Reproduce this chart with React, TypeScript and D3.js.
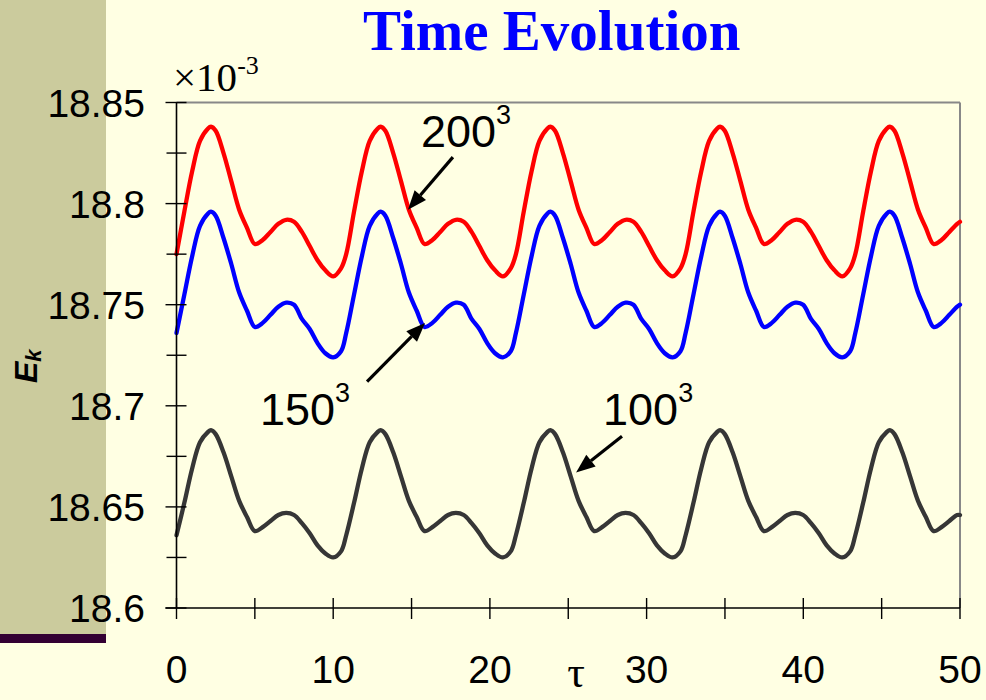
import React from "react";
import * as d3 from "d3";

// ---- data ----
const TAU = [
  0, 0.5, 1, 1.5, 2, 2.2, 2.5, 3, 3.5, 4, 4.5, 5, 5.5, 6, 6.5, 7, 7.5, 8, 8.5, 9, 9.5, 10, 10.5,
  10.83, 11.33, 11.83, 12.33, 12.83, 13.03, 13.33, 13.83, 14.33, 14.83, 15.33, 15.83, 16.33, 16.83, 17.33, 17.83, 18.33, 18.83, 19.33, 19.83, 20.33, 20.83, 21.33,
  21.66, 22.16, 22.66, 23.16, 23.66, 23.86, 24.16, 24.66, 25.16, 25.66, 26.16, 26.66, 27.16, 27.66, 28.16, 28.66, 29.16, 29.66, 30.16, 30.66, 31.16, 31.66, 32.16,
  32.49, 32.99, 33.49, 33.99, 34.49, 34.69, 34.99, 35.49, 35.99, 36.49, 36.99, 37.49, 37.99, 38.49, 38.99, 39.49, 39.99, 40.49, 40.99, 41.49, 41.99, 42.49, 42.99,
  43.32, 43.82, 44.32, 44.82, 45.32, 45.52, 45.82, 46.32, 46.82, 47.32, 47.82, 48.32, 48.82, 49.32, 49.82, 50,
];

const EK_200 = [
  18.775, 18.796, 18.816, 18.831, 18.837, 18.838, 18.836, 18.825, 18.811, 18.797, 18.788, 18.780, 18.782, 18.786, 18.790, 18.792, 18.791, 18.786, 18.779, 18.772, 18.767, 18.764, 18.768,
  18.775, 18.796, 18.816, 18.831, 18.837, 18.838, 18.836, 18.825, 18.811, 18.797, 18.788, 18.780, 18.782, 18.786, 18.790, 18.792, 18.791, 18.786, 18.779, 18.772, 18.767, 18.764, 18.768,
  18.775, 18.796, 18.816, 18.831, 18.837, 18.838, 18.836, 18.825, 18.811, 18.797, 18.788, 18.780, 18.782, 18.786, 18.790, 18.792, 18.791, 18.786, 18.779, 18.772, 18.767, 18.764, 18.768,
  18.775, 18.796, 18.816, 18.831, 18.837, 18.838, 18.836, 18.825, 18.811, 18.797, 18.788, 18.780, 18.782, 18.786, 18.790, 18.792, 18.791, 18.786, 18.779, 18.772, 18.767, 18.764, 18.768,
  18.775, 18.796, 18.816, 18.831, 18.837, 18.838, 18.836, 18.825, 18.811, 18.797, 18.788, 18.780, 18.782, 18.786, 18.790, 18.791,
];

const EK_150 = [
  18.736, 18.755, 18.774, 18.789, 18.795, 18.796, 18.794, 18.783, 18.770, 18.756, 18.747, 18.739, 18.741, 18.745, 18.749, 18.751, 18.750, 18.743, 18.738, 18.731, 18.726, 18.724, 18.727,
  18.736, 18.755, 18.774, 18.789, 18.795, 18.796, 18.794, 18.783, 18.770, 18.756, 18.747, 18.739, 18.741, 18.745, 18.749, 18.751, 18.750, 18.743, 18.738, 18.731, 18.726, 18.724, 18.727,
  18.736, 18.755, 18.774, 18.789, 18.795, 18.796, 18.794, 18.783, 18.770, 18.756, 18.747, 18.739, 18.741, 18.745, 18.749, 18.751, 18.750, 18.743, 18.738, 18.731, 18.726, 18.724, 18.727,
  18.736, 18.755, 18.774, 18.789, 18.795, 18.796, 18.794, 18.783, 18.770, 18.756, 18.747, 18.739, 18.741, 18.745, 18.749, 18.751, 18.750, 18.743, 18.738, 18.731, 18.726, 18.724, 18.727,
  18.736, 18.755, 18.774, 18.789, 18.795, 18.796, 18.794, 18.783, 18.770, 18.756, 18.747, 18.739, 18.741, 18.745, 18.749, 18.750,
];

const EK_100 = [
  18.636, 18.652, 18.669, 18.682, 18.687, 18.688, 18.686, 18.677, 18.665, 18.653, 18.645, 18.638, 18.640, 18.643, 18.646, 18.647, 18.646, 18.642, 18.637, 18.631, 18.627, 18.625, 18.628,
  18.636, 18.652, 18.669, 18.682, 18.687, 18.688, 18.686, 18.677, 18.665, 18.653, 18.645, 18.638, 18.640, 18.643, 18.646, 18.647, 18.646, 18.642, 18.637, 18.631, 18.627, 18.625, 18.628,
  18.636, 18.652, 18.669, 18.682, 18.687, 18.688, 18.686, 18.677, 18.665, 18.653, 18.645, 18.638, 18.640, 18.643, 18.646, 18.647, 18.646, 18.642, 18.637, 18.631, 18.627, 18.625, 18.628,
  18.636, 18.652, 18.669, 18.682, 18.687, 18.688, 18.686, 18.677, 18.665, 18.653, 18.645, 18.638, 18.640, 18.643, 18.646, 18.647, 18.646, 18.642, 18.637, 18.631, 18.627, 18.625, 18.628,
  18.636, 18.652, 18.669, 18.682, 18.687, 18.688, 18.686, 18.677, 18.665, 18.653, 18.645, 18.638, 18.640, 18.643, 18.646, 18.646,
];

const X_TICKS = [0, 10, 20, 30, 40, 50];
const X_MINOR = [5, 15, 25, 35, 45];
const Y_TICKS = [18.6, 18.65, 18.7, 18.75, 18.8, 18.85];
const Y_TICK_LABELS = ["18.6", "18.65", "18.7", "18.75", "18.8", "18.85"];
const Y_MINOR = [18.625, 18.675, 18.725, 18.775, 18.825];

const SERIES_NAMES = ["200", "150", "100"];
const SERIES_COLORS = ["#ff0000", "#0000ff", "#363636"];
// annotation: label position, arrow start, arrow tip (data space)
const LABEL_POS = [[15.6, 18.828], [5.33, 18.6905], [27.22, 18.6905]];
const ARROW_FROM = [[17.64, 18.823], [12.16, 18.712], [28.43, 18.685]];
const ARROW_TO = [[14.77, 18.797], [15.86, 18.741], [25.5, 18.667]];

const W = 986;
const H = 700;

export default function App() {
  const x = d3.scaleLinear().domain([0, 50]).range([176.5, 960]);
  const y = d3.scaleLinear().domain([18.6, 18.85]).range([608, 102.5]);
  const series = [EK_200, EK_150, EK_100];
  const line = d3
    .line<number>()
    .x((_, i) => x(TAU[i]))
    .y((d) => y(d))
    .curve(d3.curveCatmullRom.alpha(0.5));

  const x0 = x(0), x1 = x(50), yTop = y(18.85), yBot = y(18.6);
  const sans = "'Liberation Sans', Arial, sans-serif";
  const serif = "'Liberation Serif', 'Times New Roman', serif";

  return (
    <div style={{ position: "absolute", left: 0, top: 0 }}>
      <svg width={W} height={H} style={{ display: "block" }}>
        <rect x={0} y={0} width={W} height={H} fill="#ffffe3" />
        <rect x={0} y={0} width={106} height={634} fill="#cbcb9d" />
        <rect x={0} y={634} width={106} height={9} fill="#330033" />

        <text x={363} y={50} fontFamily={serif} fontWeight="bold" fontSize={57} fill="#0000ff">
          Time Evolution
        </text>

        {/* frame */}
        <line x1={x0} x2={x1} y1={yTop} y2={yTop} stroke="#888" strokeWidth={2} />
        <line x1={x1} x2={x1} y1={yTop} y2={yBot} stroke="#888" strokeWidth={2} />

        {/* lines */}
        {series.map((s, i) => (
          <path
            key={i}
            d={line(s) || ""}
            fill="none"
            stroke={SERIES_COLORS[i]}
            strokeWidth={4.3}
            strokeLinejoin="round"
            strokeLinecap="round"
          />
        ))}

        {/* y axis */}
        <line x1={x0} x2={x0} y1={yTop} y2={yBot} stroke="#000" strokeWidth={1.6} />
        {Y_TICKS.map((t) => (
          <line key={"ym" + t} x1={x0 - 11} x2={x0 + 10} y1={y(t)} y2={y(t)} stroke="#000" strokeWidth={1.4} />
        ))}
        {Y_MINOR.map((t) => (
          <line key={"yn" + t} x1={x0 - 10} x2={x0 + 10} y1={y(t)} y2={y(t)} stroke="#000" strokeWidth={1.4} />
        ))}
        {Y_TICKS.map((t, i) => (
          <text key={"yl" + t} x={145} y={y(t)} dy="0.36em" textAnchor="end" fontFamily={sans} fontSize={39} fill="#000">
            {Y_TICK_LABELS[i]}
          </text>
        ))}

        {/* x axis */}
        <line x1={x0 - 11} x2={x1} y1={yBot} y2={yBot} stroke="#000" strokeWidth={1.6} />
        {X_TICKS.concat(X_MINOR).map((t) => (
          <line key={"xt" + t} x1={x(t)} x2={x(t)} y1={yBot - 10} y2={yBot + 11} stroke="#000" strokeWidth={1.4} />
        ))}
        {X_TICKS.map((t) => (
          <text key={"xl" + t} x={x(t)} y={683} textAnchor="middle" fontFamily={sans} fontSize={39} fill="#000">
            {t}
          </text>
        ))}

        {/* scale factor */}
        <text x={173} y={91} fontFamily={serif} fontSize={41} fill="#000">
          ×10<tspan fontSize={26} dy={-17}>-3</tspan>
        </text>

        {/* axis titles */}
        <text transform="translate(37,383) rotate(-90)" fontFamily={sans} fontWeight="bold" fontStyle="italic" fontSize={32} fill="#000">
          E<tspan fontSize={22} dy={4}>k</tspan>
        </text>
        <text x={576} y={687} textAnchor="middle" fontFamily={serif} fontSize={44} fill="#000">
          τ
        </text>

        {/* annotations */}
        {SERIES_NAMES.map((n, i) => {
          const fx = x(ARROW_FROM[i][0]), fy = y(ARROW_FROM[i][1]);
          const tx = x(ARROW_TO[i][0]), ty = y(ARROW_TO[i][1]);
          const ang = Math.atan2(ty - fy, tx - fx);
          const L = 19, hw = 7.5;
          const bx = tx - L * Math.cos(ang), by = ty - L * Math.sin(ang);
          const px = -Math.sin(ang), py = Math.cos(ang);
          const head = `${tx},${ty} ${bx + hw * px},${by + hw * py} ${bx - hw * px},${by - hw * py}`;
          return (
            <g key={"a" + n}>
              <line x1={fx} y1={fy} x2={bx} y2={by} stroke="#000" strokeWidth={3.2} />
              <polygon points={head} fill="#000" />
              <text x={x(LABEL_POS[i][0])} y={y(LABEL_POS[i][1])} fontFamily={sans} fontSize={45} fill="#000">
                {n}
                <tspan fontSize={27} dy={-23}>3</tspan>
              </text>
            </g>
          );
        })}
      </svg>
    </div>
  );
}
